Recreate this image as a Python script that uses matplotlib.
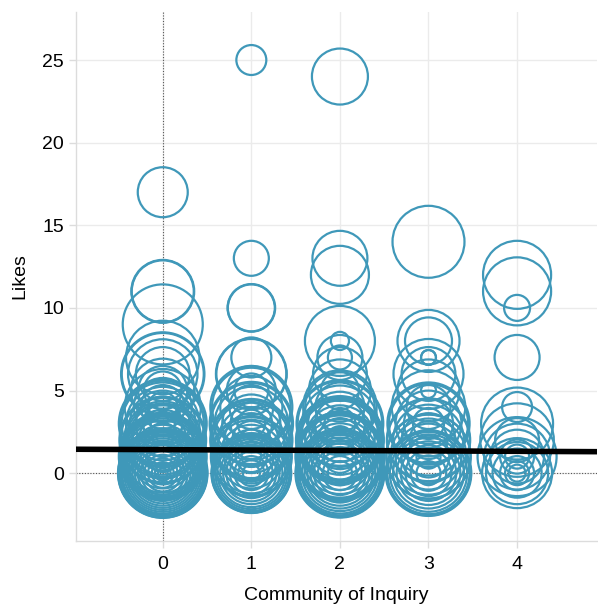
import numpy as np
import matplotlib
matplotlib.use('Agg')
import matplotlib.pyplot as plt

plt.rcParams['font.family'] = ['Liberation Sans', 'DejaVu Sans']

# likes per post, grouped by Community of Inquiry category, with post length (bubble size)
likes_0 = [17, 11, 11, 9, 7, 6, 6, 6, 6, 5, 5, 5, 4, 4, 4, 4, 3, 3, 3, 3, 3, 3, 3, 3,
           2, 2, 2, 2, 2, 2, 2, 2, 2, 1, 1, 1, 1, 1, 1, 1, 1, 1, 1, 1,
           0, 0, 0, 0, 0, 0, 0, 0, 0, 0, 0, 0, 0, 0, 0, 0, 0, 0, 0, 0]
words_0 = [259, 399, 410, 664, 560, 697, 720, 500, 300, 420, 250, 150, 600, 350, 200, 90, 800, 760, 700, 560, 450, 300, 160, 60,
           780, 740, 620, 560, 500, 380, 240, 120, 40, 800, 770, 740, 700, 660, 600, 540, 420, 320, 200, 100,
           830, 820, 800, 780, 760, 720, 680, 620, 560, 500, 440, 380, 320, 260, 200, 140, 90, 50, 25, 10]

likes_1 = [25, 13, 10, 10, 7, 6, 6, 5, 5, 4, 4, 4, 4, 3, 3, 3, 3, 3, 3, 2, 2, 2, 2, 2, 2, 2,
           1, 1, 1, 1, 1, 1, 1, 1, 0, 0, 0, 0, 0, 0, 0, 0, 0, 0, 0, 0, 0, 0]
words_1 = [93, 127, 229, 235, 166, 508, 520, 250, 120, 697, 640, 400, 200, 720, 680, 560, 350, 180, 80, 700, 660, 600, 450, 300, 150, 50,
           680, 640, 560, 420, 300, 200, 100, 40, 660, 650, 640, 620, 600, 540, 480, 400, 330, 260, 190, 120, 70, 30]

likes_2 = [24, 13, 12, 8, 8, 7, 7, 6, 5, 5, 4, 4, 4, 3, 3, 3, 3, 3, 3, 2, 2, 2, 2, 2, 2, 2, 2, 2,
           1, 1, 1, 1, 1, 1, 1, 1, 1, 1, 0, 0, 0, 0, 0, 0, 0, 0, 0, 0, 0, 0, 0, 0]
words_2 = [325, 313, 349, 508, 34, 210, 60, 300, 400, 150, 560, 500, 250, 780, 740, 600, 420, 260, 100, 800, 780, 760, 700, 650, 500, 350, 200, 80,
           820, 800, 780, 740, 700, 580, 460, 340, 220, 110, 820, 800, 790, 760, 740, 680, 600, 520, 440, 360, 280, 200, 120, 60]

likes_3 = [14, 8, 8, 7, 7, 6, 6, 5, 5, 4, 4, 3, 3, 3, 3, 3, 2, 2, 2, 2, 2,
           1, 1, 1, 1, 1, 1, 1, 0, 0, 0, 0, 0, 0, 0, 0, 0, 0, 0]
words_3 = [537, 399, 229, 23, 23, 508, 300, 23, 400, 560, 200, 700, 650, 450, 250, 100, 720, 700, 520, 300, 150,
           740, 730, 600, 450, 300, 180, 60, 760, 740, 720, 700, 620, 520, 420, 320, 220, 130, 60]

likes_4 = [12, 11, 10, 7, 4, 3, 2, 2, 1, 1, 1, 1, 1, 0, 0, 0, 0, 0, 0]
words_4 = [480, 480, 70, 210, 93, 537, 560, 200, 647, 450, 300, 120, 60, 508, 400, 250, 120, 60, 30]

categories = [0, 1, 2, 3, 4]
likes = [likes_0, likes_1, likes_2, likes_3, likes_4]
words = [words_0, words_1, words_2, words_3, words_4]

# fitted trend line (likes ~ category)
fit_intercept = 1.42
fit_slope = -0.025

blue = '#3f98b9'
grid_col = '#ebebeb'

fig = plt.figure(figsize=(5.98, 6.05), dpi=100)
ax = fig.add_axes([0.127, 0.106, 0.871, 0.874])

for c, l, w in zip(categories, likes, words):
    ax.scatter(np.full(len(l), c), l, s=np.array(w) * 5.0, facecolors='none',
               edgecolors=blue, linewidths=1.6, zorder=3)

ax.axvline(0, color='#555555', ls=(0, (1, 1.5)), lw=0.8, zorder=2)
ax.axhline(0, color='#555555', ls=(0, (1, 1.5)), lw=0.8, zorder=2)

xx = np.array([-1.0, 4.9])
ax.plot(xx, fit_intercept + fit_slope * xx, color='black', lw=4, zorder=4)

ax.set_xlim(-0.98, 4.9)
ax.set_ylim(-4.1, 27.9)
ax.set_xticks(categories)
ax.set_yticks([0, 5, 10, 15, 20, 25])
ax.grid(True, color=grid_col, lw=1, zorder=0)
ax.set_axisbelow(True)

for s in ['top', 'right']:
    ax.spines[s].set_visible(False)
for s in ['left', 'bottom']:
    ax.spines[s].set_color('#dcdcdc')
    ax.spines[s].set_linewidth(1)
ax.tick_params(axis='both', colors='#dcdcdc', labelcolor='black', labelsize=14, length=5, width=1)
ax.tick_params(axis='x', pad=6)

ax.set_xlabel('Community of Inquiry', fontsize=14, labelpad=10)
ax.set_ylabel('Likes', fontsize=14, labelpad=10)

plt.savefig('out.png', dpi=100)
